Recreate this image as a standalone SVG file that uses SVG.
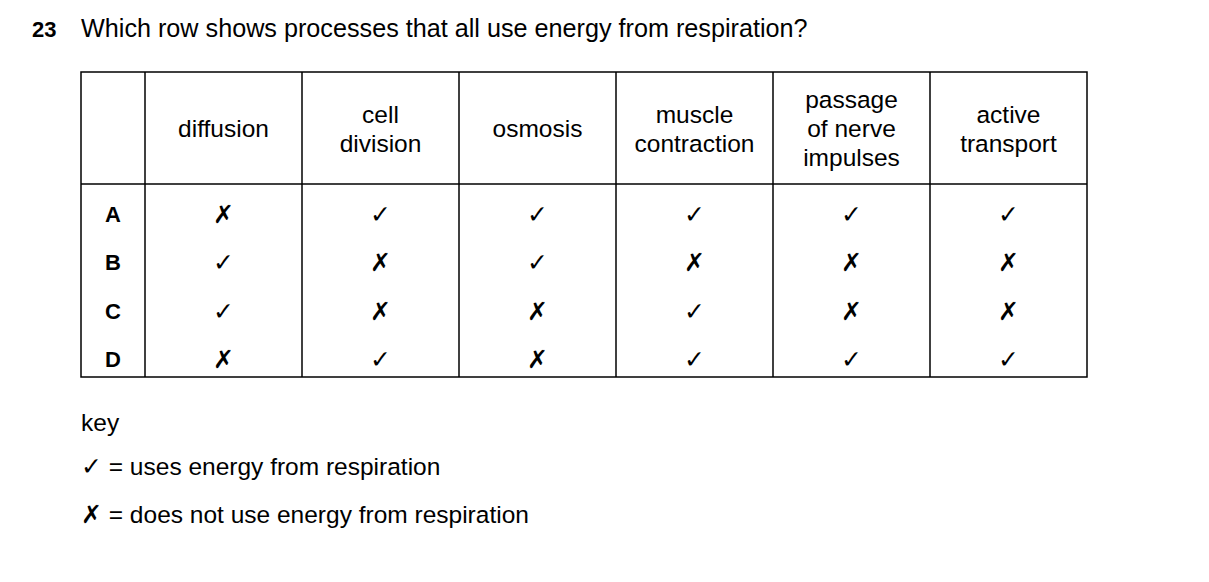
<svg xmlns="http://www.w3.org/2000/svg" width="1209" height="582" viewBox="0 0 1209 582">
<style>
text{font-family:"Liberation Sans",Arial,sans-serif;fill:#000}
.h{font-size:24.5px;text-anchor:middle}
.r{font-size:22px;font-weight:bold;text-anchor:middle}
.m{font-family:"DejaVu Sans",sans-serif;font-size:25px;text-anchor:middle}
.t{font-size:24.5px}
.k{font-family:"DejaVu Sans",sans-serif;font-size:25px}
line{stroke:#000;stroke-width:1.5}
</style>
<rect width="1209" height="582" fill="#fff"/>
<text x="32" y="37" font-weight="bold" style="font-size:22px">23</text>
<text x="81" y="37" style="font-size:25.2px">Which row shows processes that all use energy from respiration?</text>
<g id="table" fill="none">
<rect x="81" y="72" width="1006" height="305" stroke="#000" stroke-width="1.5"/>
<line x1="81" y1="184" x2="1087" y2="184" stroke="#555" stroke-width="2"/>
<line x1="145" y1="72" x2="145" y2="377"/><line x1="302" y1="72" x2="302" y2="377"/>
<line x1="459" y1="72" x2="459" y2="377"/><line x1="616" y1="72" x2="616" y2="377"/>
<line x1="773" y1="72" x2="773" y2="377"/><line x1="930" y1="72" x2="930" y2="377"/>
</g>
<g id="headers">
<text class="h" x="223.5" y="137">diffusion</text>
<text class="h" x="380.5" y="123">cell</text><text class="h" x="380.5" y="152">division</text>
<text class="h" x="537.5" y="137">osmosis</text>
<text class="h" x="694.5" y="123">muscle</text><text class="h" x="694.5" y="152">contraction</text>
<text class="h" x="851.5" y="108">passage</text><text class="h" x="851.5" y="137">of nerve</text><text class="h" x="851.5" y="166">impulses</text>
<text class="h" x="1008.5" y="123">active</text><text class="h" x="1008.5" y="152">transport</text>
</g>
<g id="rows">
<text class="r" x="113" y="222">A</text><text class="r" x="113" y="270">B</text><text class="r" x="113" y="319">C</text><text class="r" x="113" y="367">D</text>
<text class="m" x="223.5" y="223">✗</text><text class="m" x="380.5" y="223">✓</text><text class="m" x="537.5" y="223">✓</text><text class="m" x="694.5" y="223">✓</text><text class="m" x="851.5" y="223">✓</text><text class="m" x="1008.5" y="223">✓</text>
<text class="m" x="223.5" y="271">✓</text><text class="m" x="380.5" y="271">✗</text><text class="m" x="537.5" y="271">✓</text><text class="m" x="694.5" y="271">✗</text><text class="m" x="851.5" y="271">✗</text><text class="m" x="1008.5" y="271">✗</text>
<text class="m" x="223.5" y="320">✓</text><text class="m" x="380.5" y="320">✗</text><text class="m" x="537.5" y="320">✗</text><text class="m" x="694.5" y="320">✓</text><text class="m" x="851.5" y="320">✗</text><text class="m" x="1008.5" y="320">✗</text>
<text class="m" x="223.5" y="368">✗</text><text class="m" x="380.5" y="368">✓</text><text class="m" x="537.5" y="368">✗</text><text class="m" x="694.5" y="368">✓</text><text class="m" x="851.5" y="368">✓</text><text class="m" x="1008.5" y="368">✓</text>
</g>
<g id="key">
<text class="t" x="81" y="431">key</text>
<text x="81" y="475"><tspan class="k">✓</tspan><tspan class="t"> = uses energy from respiration</tspan></text>
<text x="81" y="523"><tspan class="k">✗</tspan><tspan class="t"> = does not use energy from respiration</tspan></text>
</g>
</svg>
